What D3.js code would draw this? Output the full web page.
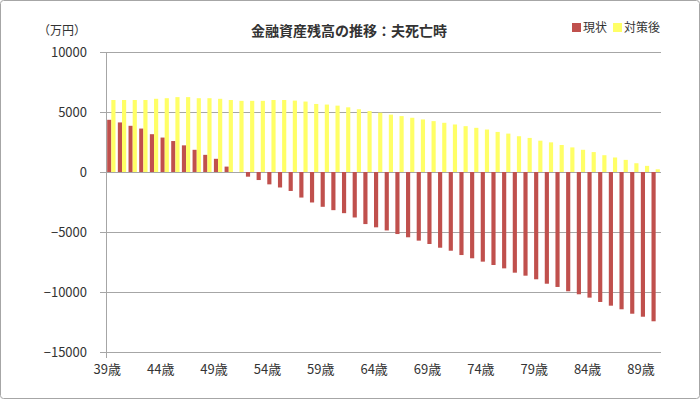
<!DOCTYPE html>
<html>
<head>
<meta charset="utf-8">
<script src="https://cdn.jsdelivr.net/npm/d3@7"></script>
<style>
  html, body { margin: 0; padding: 0; background: #fff; }
  svg { display: block; font-family: "Noto Sans CJK JP", "Noto Sans", sans-serif; }
</style>
</head>
<body>
<svg id="chart"></svg>
<script>
var ages = [];
for (var a = 39; a <= 90; a++) ages.push(a);

// 現状
var genjo = [4350, 4130, 3850, 3620, 3150, 2870, 2580, 2220, 1850, 1430, 1100, 450, 0,
  -390, -670, -1030, -1290, -1580, -2130, -2540, -2900, -3180, -3430, -3790, -4340, -4610,
  -4870, -5170, -5440, -5720, -6000, -6310, -6560, -6920, -7190, -7470, -7750, -8030,
  -8390, -8640, -8940, -9310, -9580, -9940, -10190, -10470, -10830, -11140, -11440,
  -11810, -12060, -12440];
// 対策後
var taisakugo = [6000, 6000, 6000, 6000, 6100, 6150, 6240, 6240, 6150, 6150, 6100, 6000,
  5930, 5930, 5930, 6000, 6000, 5950, 5870, 5670, 5620, 5530, 5390, 5230, 5080, 4940,
  4780, 4660, 4520, 4380, 4240, 4100, 3960, 3820, 3680, 3540, 3340, 3200, 2980, 2840,
  2610, 2470, 2250, 2050, 1850, 1660, 1400, 1210, 1010, 730, 510, 225];

var seriesNames = ["現状", "対策後"];
var seriesColors = ["#c0504d", "#ffff66"];
var yTicks = [10000, 5000, 0, -5000, -10000, -15000];
var xTickAges = [39, 44, 49, 54, 59, 64, 69, 74, 79, 84, 89];

var W = 700, H = 399;
var padL = 106, padR = 661, padT = 52, padB = 352;

var svg = d3.select("#chart").attr("width", W).attr("height", H);

// outer frame
svg.append("rect")
  .attr("x", 0.5).attr("y", 0.5)
  .attr("width", W - 1).attr("height", H - 1)
  .attr("rx", 3)
  .attr("fill", "#fff")
  .attr("stroke", "#a6a6a6");

var x0 = d3.scaleBand().domain(ages).range([padL, padR])
  .paddingInner(0.22).paddingOuter(0.11);
var x1 = d3.scaleBand().domain([0, 1]).range([0, x0.bandwidth()]);
var y = d3.scaleLinear().domain([-15000, 10000]).range([padB, padT]);

// gridlines
svg.append("g")
  .selectAll("line")
  .data(yTicks)
  .enter()
  .append("line")
    .attr("x1", padL - 6).attr("x2", padR)
    .attr("y1", function(d){ return Math.round(y(d)) + 0.5; })
    .attr("y2", function(d){ return Math.round(y(d)) + 0.5; })
    .attr("stroke", "#a6a6a6")
    .attr("stroke-width", 1);

// y axis labels
var yAxis = d3.axisLeft(y).tickValues(yTicks).tickSize(0).tickPadding(19)
  .tickFormat(d3.format("d"));
svg.append("g")
  .attr("transform", "translate(" + padL + ",0)")
  .call(yAxis)
  .call(function(g){ g.select(".domain").remove(); })
  .selectAll("text")
    .attr("font-size", 13)
    .attr("fill", "#333")
    .style("font-family", "'Noto Sans CJK JP', sans-serif");

// bars
var series = [genjo, taisakugo];
series.forEach(function(vals, s){
  svg.append("g")
    .selectAll("rect")
    .data(vals)
    .enter()
    .append("rect")
      .attr("x", function(d, i){ return x0(ages[i]) + x1(s); })
      .attr("y", function(d){ return y(Math.max(0, d)); })
      .attr("width", x1.bandwidth())
      .attr("height", function(d){ return Math.abs(y(d) - y(0)); })
      .attr("fill", seriesColors[s]);
});

// left axis line
svg.append("line")
  .attr("x1", padL + 0.5).attr("x2", padL + 0.5)
  .attr("y1", padT).attr("y2", padB + 6)
  .attr("stroke", "#a6a6a6");

// x labels
var xAxis = d3.axisBottom(x0).tickValues(xTickAges)
  .tickFormat(function(d){ return d + "歳"; })
  .tickSize(0).tickPadding(13);
svg.append("g")
  .attr("transform", "translate(-4," + padB + ")")
  .call(xAxis)
  .call(function(g){ g.select(".domain").remove(); })
  .selectAll("text")
    .attr("font-size", 13)
    .attr("fill", "#333")
    .style("font-family", "'Noto Sans CJK JP', sans-serif");

// title
svg.append("text")
  .attr("x", 349).attr("y", 36)
  .attr("text-anchor", "middle")
  .attr("font-size", 14)
  .attr("font-weight", "bold")
  .attr("fill", "#333")
  .text("金融資産残高の推移：夫死亡時");

svg.append("text")
  .attr("x", 86).attr("y", 35)
  .attr("text-anchor", "end")
  .attr("font-size", 12)
  .attr("fill", "#333")
  .text("（万円）");

// legend
var legendX = [572, 613];
seriesNames.forEach(function(name, s){
  svg.append("rect")
    .attr("x", legendX[s]).attr("y", 23)
    .attr("width", 9).attr("height", 9)
    .attr("fill", seriesColors[s]);
  svg.append("text")
    .attr("x", legendX[s] + 11).attr("y", 32)
    .attr("font-size", 12)
    .attr("fill", "#333")
    .text(name);
});
</script>
</body>
</html>
